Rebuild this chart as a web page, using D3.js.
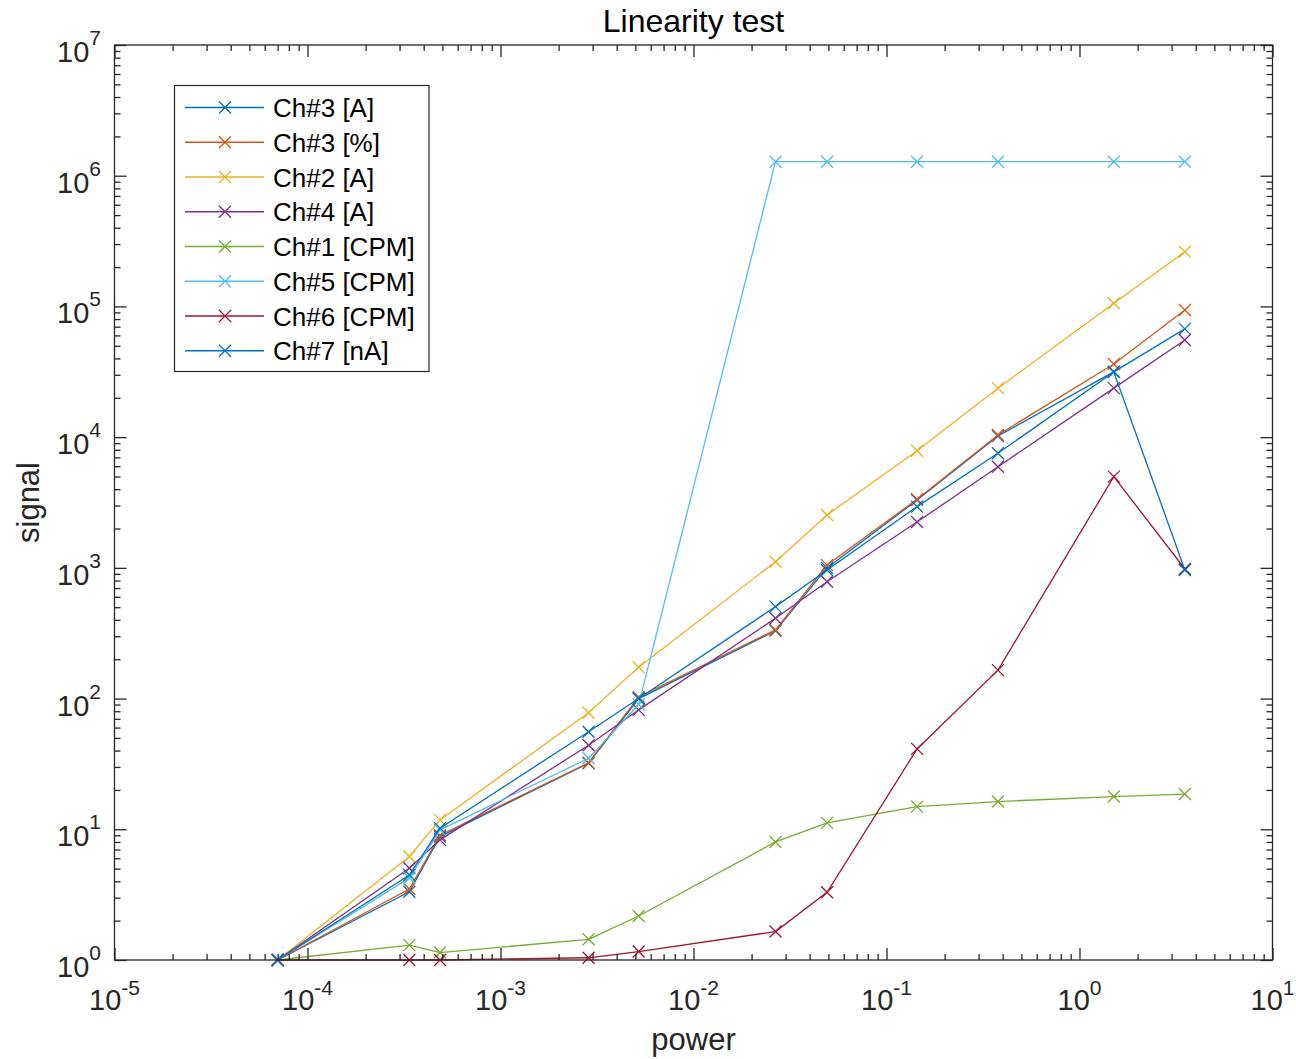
<!DOCTYPE html>
<html>
<head>
<meta charset="utf-8">
<script src="https://cdn.jsdelivr.net/npm/d3@7"></script>
<style>
  html, body { margin: 0; padding: 0; background: #fff; }
  svg { display: block; font-family: "Liberation Sans", Arial, Helvetica, sans-serif; }
</style>
</head>
<body>
<svg id="chart" width="1296" height="1059"></svg>
<script>
// ---- data ----
const powerValues = [7e-5, 3.37e-4, 4.86e-4, 2.86e-3, 5.2e-3, 0.0266, 0.0492, 0.144, 0.378, 1.506, 3.515];
const ch3A   = [1, 3.33, 8.8, 32, 100, 330, 1000, 3300, 10200, 31600, 67300];
const ch3Pct = [1, 3.49, 9.0, 32.3, 103, 335, 1050, 3350, 10400, 36300, 94000];
const ch2A   = [1, 6.2, 11.8, 78, 174, 1115, 2540, 7880, 23700, 105800, 262000];
const ch4A   = [1, 5.03, 8.3, 44, 82, 411, 784, 2240, 5940, 23700, 55400];
const ch1CPM = [1, 1.30, 1.14, 1.44, 2.17, 8.0, 11.2, 14.9, 16.3, 17.8, 18.6];
const ch5CPM = [1, 4.24, 9.9, 34.9, 90, 1.28e6, 1.28e6, 1.28e6, 1.28e6, 1.28e6, 1.28e6];
const ch6CPM = [1, 1, 1, 1.04, 1.16, 1.65, 3.3, 41.2, 165, 4990, 980];
const ch7nA  = [1, 4.47, 10.2, 55.8, 100, 505, 964, 2940, 7530, 31500, 964];

const seriesNames = ["Ch#3 [A]", "Ch#3 [%]", "Ch#2 [A]", "Ch#4 [A]", "Ch#1 [CPM]", "Ch#5 [CPM]", "Ch#6 [CPM]", "Ch#7 [nA]"];
const seriesValues = [ch3A, ch3Pct, ch2A, ch4A, ch1CPM, ch5CPM, ch6CPM, ch7nA];
const seriesColors = ["#0072BD", "#D95319", "#EDB120", "#7E2F8E", "#77AC30", "#4DBEEE", "#A2142F", "#0072BD"];

const xTickExponents = [-5, -4, -3, -2, -1, 0, 1];
const yTickExponents = [0, 1, 2, 3, 4, 5, 6, 7];

const titleText = "Linearity test";
const xLabelText = "power";
const yLabelText = "signal";

// ---- layout ----
const svg = d3.select("#chart");
const L = 114.5, R = 1272.5, T = 45, B = 960;
const axisColor = "#262626";

const x = d3.scaleLog().domain([1e-5, 10]).range([L, R]);
const y = d3.scaleLog().domain([1, 1e7]).range([B, T]);

const xMajor = xTickExponents.map(e => Math.pow(10, e));
const yMajor = yTickExponents.map(e => Math.pow(10, e));
const minorOf = (majors) => {
  const out = [];
  for (let i = 0; i < majors.length - 1; i++)
    for (let k = 2; k <= 9; k++) out.push(majors[i] * k);
  return out;
};
const xMinor = minorOf(xMajor);
const yMinor = minorOf(yMajor);

// data lines
const plot = svg.append("g");
const line = d3.line().x((d, i) => x(powerValues[i])).y(d => y(d));
seriesValues.forEach((vals, si) => {
  const g = plot.append("g");
  g.append("path").datum(vals).attr("d", line)
    .attr("fill", "none").attr("stroke", seriesColors[si]).attr("stroke-width", 1.3);
  g.selectAll("path.m").data(vals).enter().append("path")
    .attr("class", "m")
    .attr("transform", (d, i) => `translate(${x(powerValues[i])},${y(d)})`)
    .attr("d", "M-6,-6L6,6M-6,6L6,-6")
    .attr("stroke", seriesColors[si]).attr("stroke-width", 1.3).attr("fill", "none");
});

// axes (ticks inward, box on)
function styleAxis(g) {
  g.select(".domain").remove();
  g.selectAll(".tick line").attr("stroke", axisColor).attr("stroke-width", 1.3);
  g.selectAll(".tick text").remove();
}
svg.append("g").attr("transform", `translate(0,${B})`)
  .call(d3.axisBottom(x).tickValues(xMajor).tickSize(-12).tickFormat(""))
  .call(styleAxis);
svg.append("g").attr("transform", `translate(0,${B})`)
  .call(d3.axisBottom(x).tickValues(xMinor).tickSize(-6).tickFormat(""))
  .call(styleAxis);
svg.append("g").attr("transform", `translate(0,${T})`)
  .call(d3.axisTop(x).tickValues(xMajor).tickSize(-12).tickFormat(""))
  .call(styleAxis);
svg.append("g").attr("transform", `translate(0,${T})`)
  .call(d3.axisTop(x).tickValues(xMinor).tickSize(-6).tickFormat(""))
  .call(styleAxis);
svg.append("g").attr("transform", `translate(${L},0)`)
  .call(d3.axisLeft(y).tickValues(yMajor).tickSize(-12).tickFormat(""))
  .call(styleAxis);
svg.append("g").attr("transform", `translate(${L},0)`)
  .call(d3.axisLeft(y).tickValues(yMinor).tickSize(-6).tickFormat(""))
  .call(styleAxis);
svg.append("g").attr("transform", `translate(${R},0)`)
  .call(d3.axisRight(y).tickValues(yMajor).tickSize(-12).tickFormat(""))
  .call(styleAxis);
svg.append("g").attr("transform", `translate(${R},0)`)
  .call(d3.axisRight(y).tickValues(yMinor).tickSize(-6).tickFormat(""))
  .call(styleAxis);

svg.append("rect").attr("x", L).attr("y", T).attr("width", R - L).attr("height", B - T)
  .attr("fill", "none").attr("stroke", axisColor).attr("stroke-width", 1.3);

// tick labels
const xl = svg.append("g").attr("fill", axisColor);
xTickExponents.forEach(e => {
  const t = xl.append("text").attr("x", x(Math.pow(10, e))).attr("y", 1010)
    .attr("text-anchor", "middle").attr("font-size", 29);
  t.append("tspan").text("10");
  t.append("tspan").attr("dy", -15).attr("font-size", 21).text(String(e));
});
const yl = svg.append("g").attr("fill", axisColor);
yTickExponents.forEach(e => {
  const ty = y(Math.pow(10, e));
  const t = yl.append("text").attr("x", 101).attr("y", ty + 17)
    .attr("text-anchor", "end").attr("font-size", 29);
  t.append("tspan").text("10");
  t.append("tspan").attr("dy", -17).attr("font-size", 21).text(String(e));
});

// title and labels
svg.append("text").attr("x", (L + R) / 2).attr("y", 32).attr("text-anchor", "middle")
  .attr("font-size", 32).attr("fill", "#000").text(titleText);
svg.append("text").attr("x", (L + R) / 2).attr("y", 1050).attr("text-anchor", "middle")
  .attr("font-size", 31).attr("fill", axisColor).text(xLabelText);
svg.append("text").attr("transform", `translate(39,${(T + B) / 2}) rotate(-90)`)
  .attr("text-anchor", "middle").attr("font-size", 31).attr("fill", axisColor).text(yLabelText);

// legend
const lg = svg.append("g");
lg.append("rect").attr("x", 174.5).attr("y", 85.5).attr("width", 254.5).attr("height", 286)
  .attr("fill", "#fff").attr("stroke", axisColor).attr("stroke-width", 1.2);
seriesNames.forEach((name, i) => {
  const ry = 107.5 + i * 34.75;
  lg.append("line").attr("x1", 185).attr("x2", 264).attr("y1", ry).attr("y2", ry)
    .attr("stroke", seriesColors[i]).attr("stroke-width", 1.3);
  lg.append("path").attr("transform", `translate(225,${ry})`)
    .attr("d", "M-6,-6L6,6M-6,6L6,-6").attr("stroke", seriesColors[i]).attr("stroke-width", 1.3);
  lg.append("text").attr("x", 273).attr("y", ry + 9.5).attr("font-size", 26).attr("fill", "#000").text(name);
});
</script>
</body>
</html>
